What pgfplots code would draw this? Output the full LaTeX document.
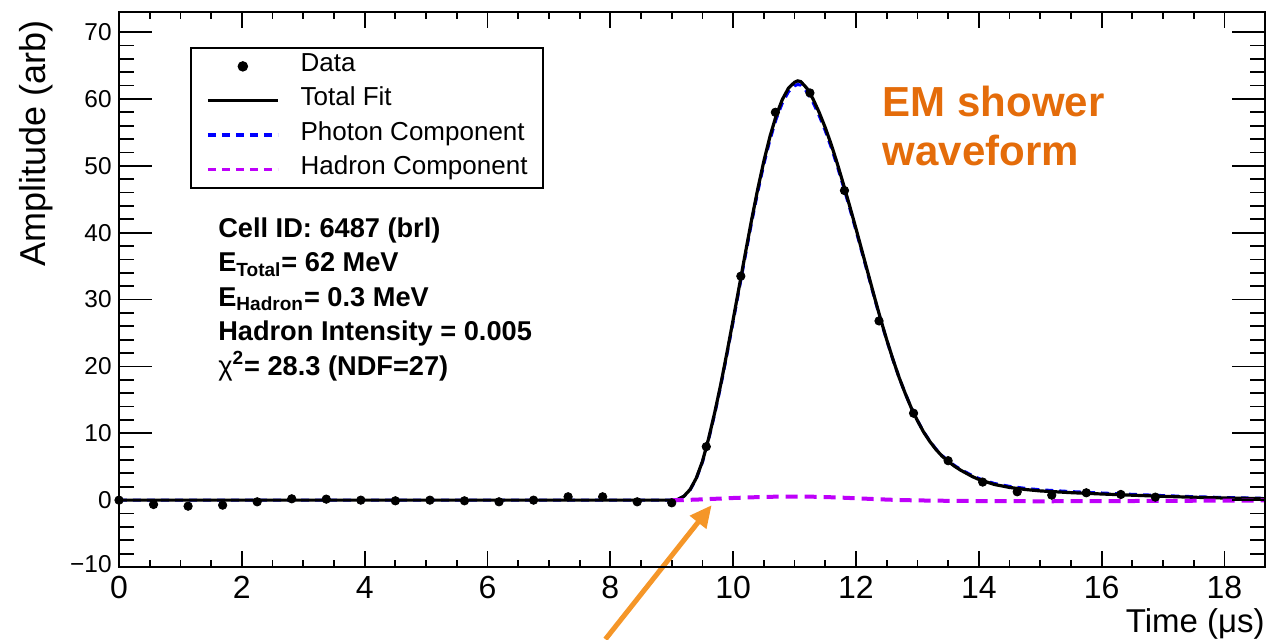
\documentclass[border=0pt]{standalone}
\usepackage{pgfplots}
\pgfplotsset{compat=1.18}
\usepackage{fontspec}
\setmainfont{Liberation Sans}
\usetikzlibrary{arrows.meta}
\definecolor{photonblue}{RGB}{0,0,255}
\definecolor{hadronmag}{RGB}{190,0,250}
\definecolor{emorange}{RGB}{228,108,10}
\definecolor{arroworange}{RGB}{245,150,40}
\begin{document}
\begin{tikzpicture}
\begin{axis}[
  at={(0pt,0pt)}, anchor=south west,
  scale only axis, width=573pt, height=277.5pt,
  xmin=0, xmax=18.66, ymin=-10, ymax=73,
  xtick={0,2,4,6,8,10,12,14,16,18},
  xticklabels={0,2,4,6,8,10,12,14,16,18},
  minor x tick num=3,
  ytick=\empty,
  xtick pos=both,
  major tick length=8pt, minor tick length=3.7pt,
  tick style={line width=0.9pt, black},
  axis line style={line width=1.1pt},
  xticklabel style={font=\fontsize{16}{16}\selectfont, inner sep=0pt, yshift=-4.5pt},
  clip=false,
  legend style={at={(axis description cs:0.062,0.937)}, anchor=north west,
    draw=black, line width=1pt, font=\fontsize{13}{13}\selectfont,
    inner xsep=7.5pt, inner ysep=1pt, row sep=0.8pt,
    nodes={inner sep=0pt, text height=10.7pt, text depth=5.7pt},
    /tikz/every odd column/.append style={column sep=10.5pt}},
  legend cell align=left,
]
% photon component (under the total fit)
\addplot[photonblue, line width=1.5pt, dash pattern=on 4pt off 3pt, forget plot] table {
x y
0 0
9.0 0
9.05 0.02
9.1 0.12
9.2 0.58
9.3 1.55
9.4 3.22
9.5 5.68
9.6 9.04
9.7 12.9
9.8 17.16
9.9 21.82
10.0 26.68
10.1 31.65
10.2 36.61
10.3 41.48
10.4 46.05
10.5 50.23
10.6 53.9
10.7 56.98
10.8 59.37
10.9 61.07
11.0 61.96
11.05 62.16
11.1 62.06
11.2 61.07
11.3 59.49
11.4 57.51
11.5 55.24
11.6 52.67
11.7 49.81
11.8 46.74
11.9 43.58
12.0 40.32
12.1 36.96
12.2 33.6
12.3 30.24
12.4 26.98
12.5 23.92
12.6 21.05
12.7 18.38
12.8 16.0
12.9 13.82
13.0 11.94
13.1 10.25
13.2 8.86
13.3 7.67
13.4 6.68
13.5 5.9
13.6 5.21
13.7 4.62
13.8 4.13
13.9 3.64
14.0 3.24
14.1 2.94
14.25 2.5
14.5 2.06
14.75 1.77
15.0 1.55
15.5 1.28
16.0 1.07
16.5 0.87
17.0 0.68
17.5 0.52
18.0 0.39
18.66 0.27
};
% total fit
\addplot[black, line width=1.6pt, forget plot] table {
x y
0 0
9.0 0
9.05 0.02
9.1 0.12
9.2 0.6
9.3 1.6
9.4 3.3
9.5 5.8
9.6 9.2
9.7 13.1
9.8 17.4
9.9 22.1
10.0 27.0
10.1 32.0
10.2 37.0
10.3 41.9
10.4 46.5
10.5 50.7
10.6 54.4
10.7 57.5
10.8 59.9
10.9 61.6
11.0 62.5
11.05 62.7
11.1 62.6
11.2 61.6
11.3 60.0
11.4 58.0
11.5 55.7
11.6 53.1
11.7 50.2
11.8 47.1
11.9 43.9
12.0 40.6
12.1 37.2
12.2 33.8
12.3 30.4
12.4 27.1
12.5 24.0
12.6 21.1
12.7 18.4
12.8 16.0
12.9 13.8
13.0 11.9
13.1 10.2
13.2 8.8
13.3 7.6
13.4 6.6
13.5 5.8
13.6 5.1
13.7 4.5
13.8 4.0
13.9 3.5
14.0 3.1
14.1 2.8
14.25 2.35
14.5 1.9
14.75 1.6
15.0 1.38
15.5 1.12
16.0 0.92
16.5 0.74
17.0 0.57
17.5 0.43
18.0 0.32
18.66 0.22
};
% hadron component
\addplot[hadronmag, line width=2pt, dash pattern=on 6pt off 3.5pt, forget plot] table {
x y
9.0 0
9.1 0.0
9.2 0.02
9.3 0.05
9.4 0.08
9.5 0.12
9.6 0.16
9.7 0.2
9.8 0.24
9.9 0.28
10.0 0.32
10.2 0.39
10.4 0.45
10.6 0.5
10.8 0.53
11.0 0.54
11.2 0.53
11.4 0.49
11.6 0.43
11.8 0.36
12.0 0.28
12.2 0.2
12.4 0.12
12.6 0.05
12.8 0.0
13.0 -0.04
13.5 -0.1
14.0 -0.14
14.5 -0.16
15.0 -0.17
16.0 -0.15
17.0 -0.11
18.0 -0.07
18.66 -0.05
};
% data
\addplot[only marks, mark=*, mark size=2.1pt, black, forget plot] table {
x y
0 0
0.5625 -0.65
1.125 -0.9
1.6875 -0.75
2.25 -0.25
2.8125 0.2
3.375 0.15
3.9375 0
4.5 -0.1
5.0625 0
5.625 -0.1
6.1875 -0.25
6.75 0
7.3125 0.5
7.875 0.5
8.4375 -0.25
9.0 -0.4
9.5625 8.0
10.125 33.5
10.6875 58.0
11.25 60.9
11.8125 46.3
12.375 26.8
12.9375 13.0
13.5 5.9
14.0625 2.7
14.625 1.25
15.1875 0.75
15.75 1.1
16.3125 0.85
16.875 0.45
};
\addlegendimage{legend image code/.code={\path[draw=none] (0pt,0pt) -- (35pt,0pt); \fill[black] (17.5pt,0pt) circle[radius=2.1pt];}}
\addlegendentry{Data}
\addlegendimage{legend image code/.code={\draw[black, line width=1.6pt] (0pt,0pt) -- (35pt,0pt);}}
\addlegendentry{Total Fit}
\addlegendimage{legend image code/.code={\draw[photonblue, line width=1.8pt, dash pattern=on 4pt off 3pt] (0pt,0pt) -- (35pt,0pt);}}
\addlegendentry{Photon Component}
\addlegendimage{legend image code/.code={\draw[hadronmag, line width=1.8pt, dash pattern=on 4pt off 3pt] (0pt,0pt) -- (35pt,0pt);}}
\addlegendentry{Hadron Component}

% info text
\begin{scope}[every node/.style={anchor=base west, inner sep=0pt, font=\fontsize{13.6}{13.6}\selectfont\bfseries}]
\node at (axis cs:1.61,39.3) {Cell ID: 6487 (brl)};
\node at (axis cs:1.61,34.15) {E\textsubscript{Total}= 62 MeV};
\node at (axis cs:1.61,29.0) {E\textsubscript{Hadron}= 0.3 MeV};
\node at (axis cs:1.61,23.85) {Hadron Intensity = 0.005};
\node at (axis cs:1.61,18.7) {{\mdseries χ}\textsuperscript{2}= 28.3 (NDF=27)};
\end{scope}
\node[anchor=base west, inner sep=0pt, text=emorange, font=\fontsize{21}{21}\selectfont\bfseries] at (axis cs:12.43,57.4) {EM shower};
\node[anchor=base west, inner sep=0pt, text=emorange, font=\fontsize{21}{21}\selectfont\bfseries] at (axis cs:12.43,50.1) {waveform};
% arrow annotation
\draw[arroworange, line width=2.5pt, -{Triangle[length=11pt, width=10pt]}] (axis cs:7.92,-20.8) -- (axis cs:9.65,-0.75);
% axis titles
\node[anchor=east, inner sep=0pt, font=\fontsize{16.5}{16.5}\selectfont] at ([yshift=-28.5pt]rel axis cs:1,0) {Time (μs)};
\node[anchor=east, rotate=90, inner sep=0pt, font=\fontsize{18}{18}\selectfont] at ([xshift=-41.5pt, yshift=-4pt]rel axis cs:0,1) {Amplitude (arb)};
\end{axis}
\begin{axis}[
  at={(0pt,0pt)}, anchor=south west,
  scale only axis, width=573pt, height=277.5pt,
  xmin=0, xmax=18.66, ymin=-10, ymax=73,
  xtick=\empty,
  ytick={-10,0,10,20,30,40,50,60,70},
  yticklabels={\raisebox{3pt}{−10},0,10,20,30,40,50,60,70},
  minor y tick num=4,
  ytick pos=both,
  major tick length=16.5pt, minor tick length=7.5pt,
  tick style={line width=0.9pt, black},
  axis line style={line width=1.1pt},
  yticklabel style={font=\fontsize{12.2}{12.2}\selectfont, inner sep=0pt, xshift=-3.5pt},
]
\end{axis}
\pgfresetboundingbox
\path (-59.5pt,-36pt) rectangle (574pt,283.5pt);
\end{tikzpicture}
\end{document}
